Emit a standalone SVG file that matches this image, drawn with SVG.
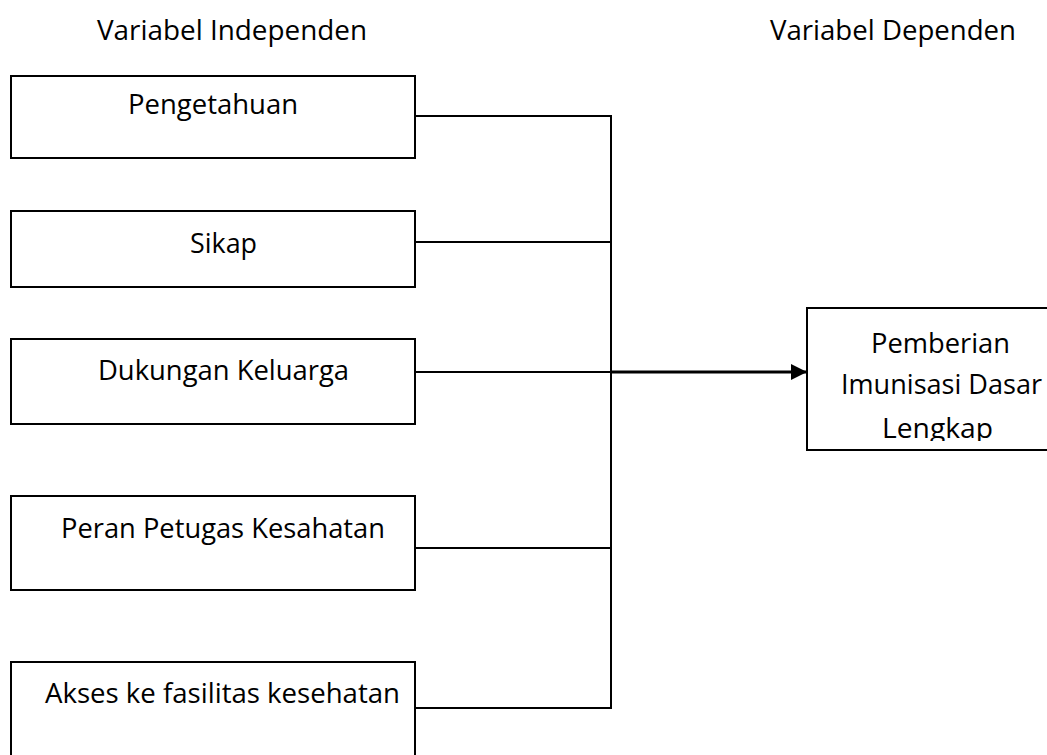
<svg xmlns="http://www.w3.org/2000/svg" width="1047" height="755" viewBox="0 0 1047 755">
<style>
text{font-family:"Open Sans","Noto Sans","Liberation Sans",sans-serif;font-size:28px;fill:#000}
.box{fill:#fff;stroke:#000;stroke-width:2}
.con{fill:none;stroke:#000;stroke-width:2}
.arr{fill:none;stroke:#000;stroke-width:3}
</style>
<defs>
<marker id="ah" markerUnits="userSpaceOnUse" markerWidth="17" markerHeight="17" refX="16" refY="8.5" orient="auto">
<path d="M0,0.5 L16,8.5 L0,16.5 Z" fill="#000"/>
</marker>
<clipPath id="clipT"><rect x="800" y="300" width="260" height="141"/></clipPath>
</defs>
<rect width="1047" height="755" fill="#fff"/>
<g id="headings">
<text x="97" y="40" textLength="270" lengthAdjust="spacingAndGlyphs">Variabel Independen</text>
<text x="770" y="40" textLength="246" lengthAdjust="spacingAndGlyphs">Variabel Dependen</text>
</g>
<g id="connectors">
<path class="con" d="M415,116 H611 V708 H415"/>
<path class="con" d="M415,242 H611"/>
<path class="con" d="M415,372 H611"/>
<path class="con" d="M415,548 H611"/>
<path class="arr" d="M611,372 H807" marker-end="url(#ah)"/>
</g>
<g id="pengetahuan">
<rect class="box" x="11" y="76" width="404" height="82"/>
<text x="128" y="114" textLength="170" lengthAdjust="spacingAndGlyphs">Pengetahuan</text>
</g>
<g id="sikap">
<rect class="box" x="11" y="211" width="404" height="76"/>
<text x="190" y="253" textLength="67" lengthAdjust="spacingAndGlyphs">Sikap</text>
</g>
<g id="dukungan">
<rect class="box" x="11" y="339" width="404" height="85"/>
<text x="98" y="380" textLength="251" lengthAdjust="spacingAndGlyphs">Dukungan Keluarga</text>
</g>
<g id="peran">
<rect class="box" x="11" y="496" width="404" height="94"/>
<text x="61" y="538" textLength="324" lengthAdjust="spacingAndGlyphs">Peran Petugas Kesahatan</text>
</g>
<g id="akses">
<rect class="box" x="11" y="662" width="404" height="110"/>
<text x="45" y="703" textLength="355" lengthAdjust="spacingAndGlyphs">Akses ke fasilitas kesehatan</text>
</g>
<g id="pemberian">
<rect class="box" x="807" y="308" width="260" height="142"/>
<g clip-path="url(#clipT)">
<text x="871" y="353" textLength="139" lengthAdjust="spacingAndGlyphs">Pemberian</text>
<text x="841" y="394" textLength="201" lengthAdjust="spacingAndGlyphs">Imunisasi Dasar</text>
<text x="882" y="438" textLength="111" lengthAdjust="spacingAndGlyphs">Lengkap</text>
</g>
</g>
</svg>
